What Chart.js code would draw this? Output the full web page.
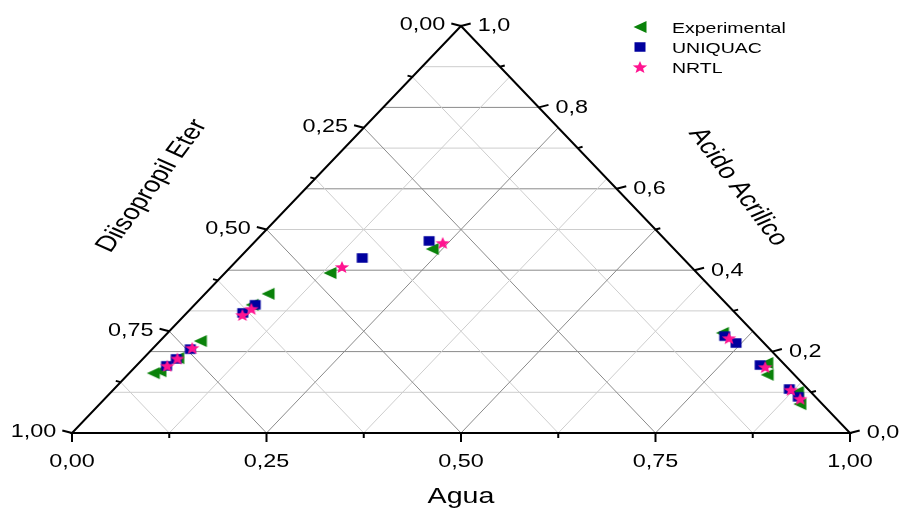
<!DOCTYPE html>
<html>
<head>
<meta charset="utf-8">
<script src="https://cdn.jsdelivr.net/npm/chart.js@4.4.0/dist/chart.umd.min.js"></script>
<style>
  html, body { margin: 0; padding: 0; background: #fff; }
</style>
</head>
<body>
<canvas id="chart" width="903" height="512"></canvas>
<script>
// Mole fractions: agua (water) and acido (acrylic acid); eter = 1 - agua - acido
var expAgua  = [0.031, 0.037, 0.044, 0.052, 0.074, 0.081, 0.135, 0.237, 0.713, 0.807, 0.822, 0.882, 0.900];
var expAcido = [0.147, 0.152, 0.184, 0.226, 0.315, 0.342, 0.393, 0.452, 0.246, 0.172, 0.143, 0.101, 0.071];

var uniAgua  = [0.039, 0.043, 0.049, 0.072, 0.078, 0.158, 0.223, 0.720, 0.743, 0.801, 0.868, 0.889];
var uniAcido = [0.165, 0.182, 0.206, 0.295, 0.315, 0.430, 0.472, 0.238, 0.221, 0.167, 0.108, 0.089];

var nrtlAgua  = [0.040, 0.044, 0.050, 0.074, 0.078, 0.143, 0.243, 0.728, 0.810, 0.871, 0.894];
var nrtlAcido = [0.165, 0.183, 0.209, 0.290, 0.305, 0.408, 0.467, 0.233, 0.162, 0.106, 0.084];

var aguaTicks  = ["0,00", "0,25", "0,50", "0,75", "1,00"];
var eterTicks  = ["0,00", "0,25", "0,50", "0,75", "1,00"];
var acidoTicks = ["0,0", "0,2", "0,4", "0,6", "0,8", "1,0"];

var seriesNames = ["Experimental", "UNIQUAC", "NRTL"];

var FONT = '"Liberation Sans", Arial, sans-serif';
var STRETCH = 1.3;

// ternary -> cartesian on a 0..1 box (acid vertex on top)
function toXY(a, c) {
  return { x: a + c / 2, y: c };
}

function buildPoints(aArr, cArr) {
  return aArr.map(function (a, i) { return toXY(a, cArr[i]); });
}

// marker sprites
function makeMarker(kind, color) {
  var cv = document.createElement("canvas");
  var g;
  if (kind === "triangle") {
    cv.width = 16; cv.height = 14;
    g = cv.getContext("2d");
    g.fillStyle = color;
    g.beginPath();
    g.moveTo(1.5, 7); g.lineTo(14.5, 1); g.lineTo(14.5, 13);
    g.closePath(); g.fill();
  } else if (kind === "square") {
    cv.width = 14; cv.height = 12;
    g = cv.getContext("2d");
    g.fillStyle = color;
    g.fillRect(1.5, 1.25, 11, 9.5);
  } else {
    cv.width = 16; cv.height = 14;
    g = cv.getContext("2d");
    g.fillStyle = color;
    g.beginPath();
    for (var k = 0; k < 10; k++) {
      var r = k % 2 === 0 ? 6.6 : 2.8;
      var ang = -Math.PI / 2 + k * Math.PI / 5;
      var px = 8 + Math.cos(ang) * r * 1.15;
      var py = 7.6 + Math.sin(ang) * r;
      if (k === 0) g.moveTo(px, py); else g.lineTo(px, py);
    }
    g.closePath(); g.fill();
  }
  return cv;
}

var triMarker = makeMarker("triangle", "#0a820a");
var sqMarker = makeMarker("square", "#00009e");
var starMarker = makeMarker("star", "#ff1490");

function stretchText(ctx, text, x, y, angle, align, font) {
  ctx.save();
  ctx.translate(x, y);
  ctx.scale(STRETCH, 1);
  ctx.rotate(angle || 0);
  ctx.font = font;
  ctx.textAlign = align;
  ctx.textBaseline = "alphabetic";
  ctx.fillStyle = "#000";
  ctx.fillText(text, 0, 0);
  ctx.restore();
}

var ternaryFrame = {
  id: "ternaryFrame",
  beforeDatasetsDraw: function (chart) {
    var ctx = chart.ctx;
    var xs = chart.scales.x, ys = chart.scales.y;
    function P(a, c) {
      var q = toXY(a, c);
      return { x: xs.getPixelForValue(q.x), y: ys.getPixelForValue(q.y) };
    }
    function line(p, q, color, w) {
      ctx.beginPath();
      ctx.strokeStyle = color;
      ctx.lineWidth = w;
      ctx.moveTo(p.x, p.y);
      ctx.lineTo(q.x, q.y);
      ctx.stroke();
    }
    var dark = "#8a8a8a", light = "#cdcdcd";
    var i, v, p, q;

    ctx.save();
    // acid grid (horizontal), every 0.1
    for (i = 1; i < 10; i++) {
      v = i / 10;
      line(P(0, v), P(1 - v, v), i % 2 === 0 ? dark : light, 1);
    }
    // water and ether grid, every 0.125
    for (i = 1; i < 8; i++) {
      v = i / 8;
      line(P(v, 0), P(v, 1 - v), i % 2 === 0 ? dark : light, 1);
      line(P(1 - v, 0), P(0, 1 - v), i % 2 === 0 ? dark : light, 1);
    }

    // triangle outline
    var bl = P(0, 0), br = P(1, 0), tp = P(0, 1);
    ctx.beginPath();
    ctx.strokeStyle = "#000";
    ctx.lineWidth = 2;
    ctx.lineJoin = "miter";
    ctx.moveTo(bl.x, bl.y); ctx.lineTo(br.x, br.y); ctx.lineTo(tp.x, tp.y);
    ctx.closePath();
    ctx.stroke();

    var tickFont = "18px " + FONT;
    var tdl = Math.sqrt(1 + 0.26 * 0.26);

    // bottom axis: Agua
    for (i = 0; i <= 8; i++) {
      v = i / 8;
      p = P(v, 0);
      var len = i % 2 === 0 ? 9 : 5;
      line(p, { x: p.x, y: p.y + len }, "#000", 2);
      if (i % 2 === 0) stretchText(ctx, aguaTicks[i / 2], p.x, p.y + 34, 0, "center", tickFont);
    }

    // right axis: Acido Acrilico
    for (i = 0; i <= 10; i++) {
      v = i / 10;
      p = P(1 - v, v);
      var lr = i % 2 === 0 ? 10 : 5;
      q = { x: p.x + lr / tdl, y: p.y - lr * 0.26 / tdl };
      line(p, q, "#000", 2);
      if (i % 2 === 0) stretchText(ctx, acidoTicks[i / 2], q.x + 7, q.y + 8, 0, "left", tickFont);
    }

    // left axis: Diisopropil Eter (0 at the top vertex)
    for (i = 0; i <= 8; i++) {
      v = i / 8;
      p = P(0, 1 - v);
      var ll = i % 2 === 0 ? 10 : 5;
      q = { x: p.x - ll / tdl, y: p.y - ll * 0.26 / tdl };
      line(p, q, "#000", 2);
      if (i % 2 === 0) stretchText(ctx, eterTicks[i / 2], q.x - 6, q.y + 7, 0, "right", tickFont);
    }

    // axis titles
    stretchText(ctx, "Agua", 461, 503, 0, "center", "22px " + FONT);
    ctx.save();
    ctx.translate(152, 186);
    ctx.scale(STRETCH, 1);
    ctx.rotate(-Math.PI / 3);
    ctx.font = "22px " + FONT;
    ctx.textAlign = "center";
    ctx.textBaseline = "middle";
    ctx.fillStyle = "#000";
    ctx.fillText("Diisopropil Eter", 0, 0);
    ctx.restore();

    ctx.save();
    ctx.translate(738, 187);
    ctx.scale(STRETCH, 1);
    ctx.rotate(Math.PI / 3);
    ctx.font = "22px " + FONT;
    ctx.textAlign = "center";
    ctx.textBaseline = "middle";
    ctx.fillStyle = "#000";
    ctx.fillText("Acido Acrilico", 0, 0);
    ctx.restore();

    ctx.restore();
  },
  afterDatasetsDraw: function (chart) {
    // legend, top right
    var ctx = chart.ctx;
    var markers = [triMarker, sqMarker, starMarker];
    var rows = [27, 47, 67];
    ctx.save();
    for (var i = 0; i < markers.length; i++) {
      var m = markers[i];
      ctx.drawImage(m, 640 - m.width / 2, rows[i] - m.height / 2);
      stretchText(ctx, seriesNames[i], 672, rows[i] + 6, 0, "left", "15px " + FONT);
    }
    ctx.restore();
  }
};

new Chart(document.getElementById("chart"), {
  type: "scatter",
  data: {
    datasets: [
      { label: seriesNames[0], data: buildPoints(expAgua, expAcido), pointStyle: triMarker, order: 3 },
      { label: seriesNames[1], data: buildPoints(uniAgua, uniAcido), pointStyle: sqMarker, order: 2 },
      { label: seriesNames[2], data: buildPoints(nrtlAgua, nrtlAcido), pointStyle: starMarker, order: 1 }
    ]
  },
  options: {
    responsive: false,
    animation: false,
    events: [],
    layout: { padding: { left: 72, right: 53, top: 26, bottom: 79 } },
    scales: {
      x: { type: "linear", min: 0, max: 1, display: false },
      y: { type: "linear", min: 0, max: 1, display: false }
    },
    plugins: {
      legend: { display: false },
      tooltip: { enabled: false }
    },
    elements: { point: { radius: 6 } }
  },
  plugins: [ternaryFrame]
});
</script>
</body>
</html>
